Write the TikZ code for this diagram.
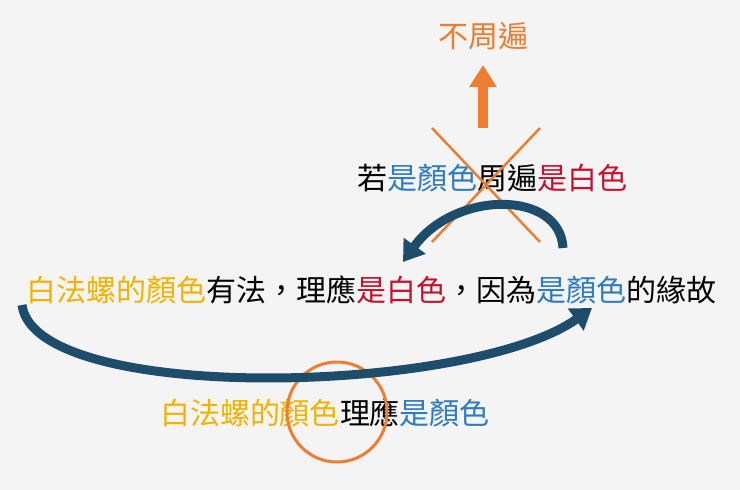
\documentclass[tikz,border=0pt]{standalone}
\usepackage{fontspec}
\newfontfamily\cjk{Noto Sans CJK TC}
\usetikzlibrary{arrows.meta}
\definecolor{bg}{HTML}{F4F4F4}
\definecolor{yel}{HTML}{F2B200}
\definecolor{rd}{HTML}{C8102E}
\definecolor{bl}{HTML}{2E7CC0}
\definecolor{org}{HTML}{ED7D31}
\definecolor{teal}{HTML}{1E4D6B}
\tikzset{txt/.style={font=\cjk\fontsize{30}{33}\selectfont, inner sep=0pt},
curv/.style={teal, line width=9pt, -{Triangle[width=26pt,length=20pt]}}}
\begin{document}
\begin{tikzpicture}[x=1pt,y=-1pt]
\fill[bg] (0,0) rectangle (740,490);
\useasboundingbox (0,0) rectangle (740,490);
\node[txt, text=org] (top) at (483,36) {不周遍};
\node[txt] (cond) at (492,178) {若\textcolor{bl}{是顏色}周遍\textcolor{rd}{是白色}};
\node[txt] (main) at (372,290) {\textcolor{yel}{白法螺的顏色}有法，理應\textcolor{rd}{是白色}，因為\textcolor{bl}{是顏色}的緣故};
\node[txt] (bot) at (325,413) {\textcolor{yel}{白法螺的顏色}理應\textcolor{bl}{是顏色}};
\coordinate (u0) at (483,128);
\coordinate (u1) at (483,65);
\draw[org, line width=10pt, -{Triangle[width=26pt,length=22pt]}] (u0) -- (u1);
\coordinate (c1) at (432,128); \coordinate (c2) at (540,242);
\coordinate (c3) at (540,128); \coordinate (c4) at (432,242);
\draw[org, line width=2.5pt] (c1) -- (c2) (c3) -- (c4);
\draw[org, line width=3pt] (337,412) circle (50);
\coordinate (a0) at (563,248); \coordinate (a1) at (403,262);
\draw[curv] (a0) .. controls (560,190) and (455,190) .. (a1);
\coordinate (b0) at (22,305); \coordinate (b1) at (592,308);
\draw[curv] (b0) .. controls (35,405) and (470,395) .. (b1);
\end{tikzpicture}
\end{document}
